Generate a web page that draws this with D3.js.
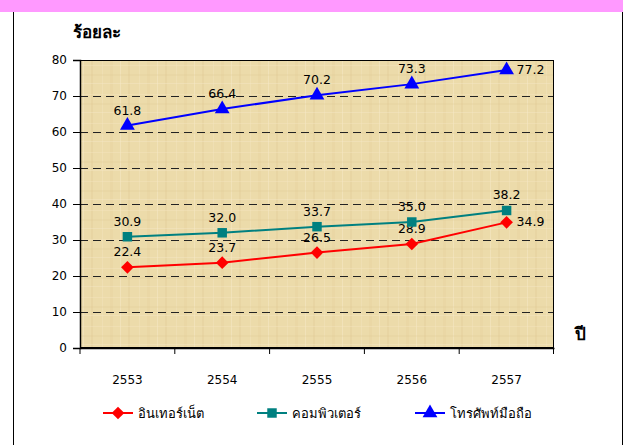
<!DOCTYPE html>
<html>
<head>
<meta charset="utf-8">
<script src="https://cdn.jsdelivr.net/npm/d3@7"></script>
<style>
  body { margin: 0; background: #fff; }
  svg { display: block; font-family: Tahoma, "DejaVu Sans", Verdana, sans-serif; }
</style>
</head>
<body>
<div id="chart"></div>
<script>
// Data
const years = ['2553', '2554', '2555', '2556', '2557'];
const internet = [22.4, 23.7, 26.5, 28.9, 34.9];
const computer = [30.9, 32.0, 33.7, 35.0, 38.2];
const mobile = [61.8, 66.4, 70.2, 73.3, 77.2];
const seriesNames = ['อินเทอร์เน็ต', 'คอมพิวเตอร์', 'โทรศัพท์มือถือ'];
const yTicks = [0, 10, 20, 30, 40, 50, 60, 70, 80];

const series = [
    { name: seriesNames[0], values: internet, color: '#ff0000', symbol: d3.symbolSquare, size: 80, rot: 45, lx: 103, lastRight: true },
    { name: seriesNames[1], values: computer, color: '#008080', symbol: d3.symbolSquare, size: 90, rot: 0, lx: 257, lastRight: false },
    { name: seriesNames[2], values: mobile, color: '#0000ff', symbol: d3.symbolTriangle, size: 95, rot: 0, lx: 415, lastRight: true }
];

const width = 626, height = 445;
const margin = { top: 60, right: 72, bottom: 97, left: 80 };
const innerW = width - margin.left - margin.right;
const innerH = height - margin.top - margin.bottom;

const svg = d3.select('#chart').append('svg')
    .attr('width', width)
    .attr('height', height);

// Parchment-like texture
const defs = svg.append('defs');
const pat = defs.append('pattern')
    .attr('id', 'paper')
    .attr('patternUnits', 'userSpaceOnUse')
    .attr('width', 37).attr('height', 29);
pat.append('rect').attr('width', 37).attr('height', 29).attr('fill', '#ecdbaa');
[[3, 1, '#f5e9c8', 0.5], [11, 2, '#e0c992', 0.3], [22, 1, '#f3e5be', 0.45], [30, 3, '#e3cd97', 0.25]]
    .forEach(([px, w, c, o]) => pat.append('rect').attr('x', px).attr('width', w).attr('height', 29).attr('fill', c).attr('opacity', o));
[[5, 1, '#f4e6c0', 0.4], [14, 2, '#dec790', 0.2], [23, 1, '#f5e9c8', 0.4]]
    .forEach(([py, h, c, o]) => pat.append('rect').attr('y', py).attr('height', h).attr('width', 37).attr('fill', c).attr('opacity', o));

// Frame
svg.append('rect').attr('x', 0).attr('y', 0).attr('width', 623).attr('height', 12).attr('fill', '#ff99ff');
svg.append('line').attr('x1', 13.5).attr('x2', 13.5).attr('y1', 12).attr('y2', height).attr('stroke', '#000');
svg.append('line').attr('x1', 622.5).attr('x2', 622.5).attr('y1', 12).attr('y2', height).attr('stroke', '#000');

const g = svg.append('g').attr('transform', `translate(${margin.left},${margin.top})`);

const x = d3.scaleBand().domain(years).range([0, innerW]);
const y = d3.scaleLinear().domain([0, 80]).range([innerH, 0]);
const cx = d => x(d) + x.bandwidth() / 2;

g.append('rect')
    .attr('width', innerW).attr('height', innerH)
    .attr('fill', 'url(#paper)');

// Gridlines
g.selectAll('.grid')
    .data(yTicks.filter(d => d > 0 && d < 80))
    .join('line')
    .attr('class', 'grid')
    .attr('x1', 0).attr('x2', innerW)
    .attr('y1', d => Math.round(y(d)) + 0.5).attr('y2', d => Math.round(y(d)) + 0.5)
    .attr('stroke', '#222')
    .attr('stroke-dasharray', '8,5');

// Plot border (top and right)
g.append('rect')
    .attr('x', 0.5).attr('y', 0.5)
    .attr('width', innerW - 1).attr('height', innerH - 1)
    .attr('fill', 'none').attr('stroke', '#000');

// Axes
const yAxis = g.append('g')
    .call(d3.axisLeft(y).tickValues(yTicks).tickSize(7).tickPadding(6));
const xAxis = g.append('g')
    .attr('transform', `translate(0,${innerH})`)
    .call(d3.axisBottom(x).tickSize(0).tickPadding(27));
xAxis.selectAll('.tick').append('line')
    .attr('x1', -x.bandwidth() / 2).attr('x2', -x.bandwidth() / 2)
    .attr('y1', 0).attr('y2', 6).attr('stroke', '#000');
xAxis.append('line')
    .attr('x1', innerW - 0.5).attr('x2', innerW - 0.5)
    .attr('y1', 0).attr('y2', 6).attr('stroke', '#000');
[yAxis, xAxis].forEach(a => {
    a.selectAll('path.domain').attr('stroke', '#000').attr('stroke-width', 1.5);
    a.selectAll('text').attr('font-size', 12).attr('fill', '#000')
        .attr('font-family', 'Tahoma, "DejaVu Sans", Verdana, sans-serif');
});

// Lines, markers and value labels
const line = d3.line()
    .x((d, i) => cx(years[i]))
    .y(d => y(d));

series.forEach(s => {
    const last = s.values.length - 1;
    const isRight = i => s.lastRight && i === last;
    g.append('path')
        .attr('d', line(s.values))
        .attr('fill', 'none')
        .attr('stroke', s.color)
        .attr('stroke-width', 2);
    g.selectAll(null)
        .data(s.values)
        .join('path')
        .attr('transform', (d, i) => `translate(${cx(years[i])},${y(d)}) rotate(${s.rot})`)
        .attr('d', d3.symbol().type(s.symbol).size(s.size))
        .attr('fill', s.color);
    g.selectAll(null)
        .data(s.values)
        .join('text')
        .attr('x', (d, i) => cx(years[i]) + (isRight(i) ? 10 : 0))
        .attr('y', (d, i) => y(d) + (isRight(i) ? 4 : -11))
        .attr('text-anchor', (d, i) => isRight(i) ? 'start' : 'middle')
        .attr('font-size', 12.5)
        .text(d => d.toFixed(1));
});

// Axis titles
svg.append('text').attr('x', 73).attr('y', 38)
    .attr('font-size', 17).attr('font-weight', 'bold').text('ร้อยละ');
svg.append('text').attr('x', 575).attr('y', 340)
    .attr('font-size', 17).attr('font-weight', 'bold').text('ปี');

// Legend
const legend = svg.append('g').attr('transform', 'translate(0,413)');
series.forEach(s => {
    const lg = legend.append('g').attr('transform', `translate(${s.lx},0)`);
    lg.append('line').attr('x1', 0).attr('x2', 30).attr('stroke', s.color).attr('stroke-width', 2);
    lg.append('path').attr('transform', `translate(15,0) rotate(${s.rot})`)
        .attr('d', d3.symbol().type(s.symbol).size(s.size)).attr('fill', s.color);
    lg.append('text').attr('x', 35).attr('y', 5).attr('font-size', 13).text(s.name);
});
</script>
</body>
</html>
